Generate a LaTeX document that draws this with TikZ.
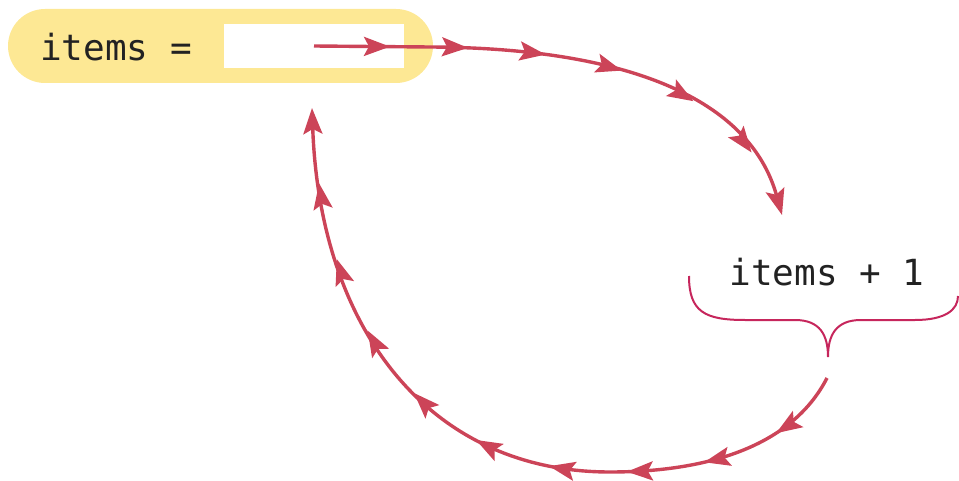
\documentclass[tikz,border=0pt]{standalone}
\usepackage{fontspec}
\setmonofont{DejaVu Sans Mono}
\usetikzlibrary{arrows.meta,decorations.markings,positioning,calc}
\definecolor{Butter}{RGB}{253,232,148}
\definecolor{Loop}{RGB}{204,68,88}
\definecolor{Brace}{RGB}{198,38,92}
\definecolor{Ink}{RGB}{34,34,34}
\tikzset{
  pill/.style={rectangle,rounded corners=18.5pt,fill=Butter,
               minimum width=212.5pt,minimum height=37pt,inner sep=0pt},
  slot/.style={rectangle,fill=white,minimum width=90pt,minimum height=22pt,inner sep=0pt},
  code/.style={font=\fontsize{18}{22}\selectfont\ttfamily,text=Ink,inner sep=0pt},
  flow/.style={Loop,line width=1.7pt,-{Stealth[length=13pt,width=9.5pt,inset=2.5pt]},
               postaction={decorate},
               decoration={markings,
                 mark=between positions 38pt and -30pt step 39pt with {\arrow{Stealth[length=13pt,width=9.5pt,inset=2.5pt]}}}},
  brace/.style={Brace,line width=1pt},
}

\begin{document}
\begin{tikzpicture}[x=0.5pt,y=-0.5pt]
  \useasboundingbox (0,0) rectangle (959,481);
  % assignment target
  \node[pill] (assign) at (220.5,46) {};
  \node[slot] (slot) at (314,46) {};
  \node[code] (lhs) at (116,47) {items =};
  % expression with brace
  \node[code] (expr) at (827,272) {items + 1};
  \draw[brace] (689,276) .. controls (689,312) and (705,320) .. (745,320) -- (795,320)
    .. controls (820,320) and (828,335) .. (828,357)
    .. controls (828,335) and (836,320) .. (861,320) -- (915,320)
    .. controls (945,320) and (958,310) .. (958,296);
  \coordinate (into) at (782,215);
  \coordinate (out) at (827,378);
  \coordinate (back) at (312,108);
  % read, then write back
  \draw[flow] (slot.center) -- (430,47) .. controls (630,48) and (750,100) .. (into);
  \draw[flow] (out) .. controls (790,450) and (700,472) .. (610,472)
    .. controls (430,472) and (320,330) .. (back);
\end{tikzpicture}
\end{document}
